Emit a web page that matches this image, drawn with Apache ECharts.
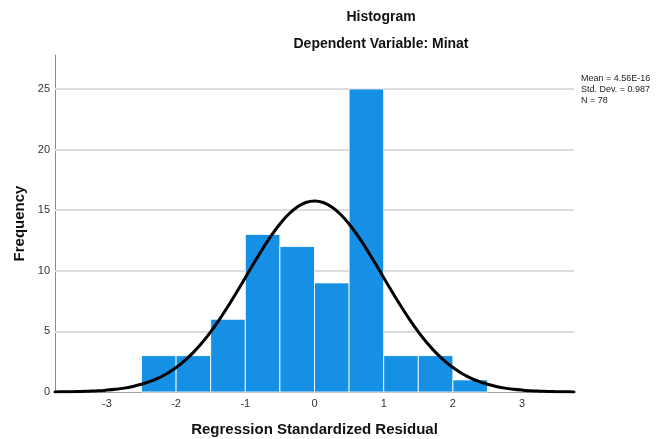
<!DOCTYPE html>
<html>
<head>
<meta charset="utf-8">
<script src="https://cdn.jsdelivr.net/npm/echarts@6/dist/echarts.min.js"></script>
<style>
  html, body { margin: 0; padding: 0; background: #ffffff; }
  #chart { width: 657px; height: 439px; }
</style>
</head>
<body>
<div id="chart"></div>
<script>
// Histogram of regression standardized residuals (dependent variable: Minat)
const binStarts = [-2.5, -2.0, -1.5, -1.0, -0.5, 0.0, 0.5, 1.0, 1.5, 2.0];
const binEnds   = [-2.0, -1.5, -1.0, -0.5, 0.0, 0.5, 1.0, 1.5, 2.0, 2.5];
const frequencies = [3, 3, 6, 13, 12, 9, 25, 3, 3, 1];

// Fitted normal curve, sampled every 0.125 along the residual axis
const curveX = [
  -3.75, -3.625, -3.5, -3.375, -3.25, -3.125, -3.0, -2.875, -2.75, -2.625, -2.5, -2.375, -2.25, -2.125,
  -2.0, -1.875, -1.75, -1.625, -1.5, -1.375, -1.25, -1.125, -1.0, -0.875, -0.75, -0.625, -0.5, -0.375,
  -0.25, -0.125, 0.0, 0.125, 0.25, 0.375, 0.5, 0.625, 0.75, 0.875, 1.0, 1.125, 1.25, 1.375, 1.5, 1.625,
  1.75, 1.875, 2.0, 2.125, 2.25, 2.375, 2.5, 2.625, 2.75, 2.875, 3.0, 3.125, 3.25, 3.375, 3.5, 3.625, 3.75
];
const curveY = [
  0.01, 0.02, 0.03, 0.05, 0.07, 0.10, 0.16, 0.23, 0.32, 0.46, 0.64, 0.87, 1.17, 1.55,
  2.02, 2.59, 3.27, 4.06, 4.96, 5.97, 7.07, 8.23, 9.43, 10.64, 11.81, 12.90, 13.86, 14.66,
  15.26, 15.63, 15.76, 15.63, 15.26, 14.66, 13.86, 12.90, 11.81, 10.64, 9.43, 8.23, 7.07, 5.97, 4.96, 4.06,
  3.27, 2.59, 2.02, 1.55, 1.17, 0.87, 0.64, 0.46, 0.32, 0.23, 0.16, 0.10, 0.07, 0.05, 0.03, 0.02, 0.01
];

const xTicks = [-3, -2, -1, 0, 1, 2, 3];
const yTicks = [0, 5, 10, 15, 20, 25];
const gridValues = [5, 10, 15, 20, 25];

const chartTitle = 'Histogram';
const chartSubtitle = 'Dependent Variable: Minat';
const xName = 'Regression Standardized Residual';
const yName = 'Frequency';
const statsLines = ['Mean = 4.56E-16', 'Std. Dev. = 0.987', 'N = 78'];

const FONT = '"Liberation Sans", Arial, sans-serif';

const binData = binStarts.map((s, i) => [s, binEnds[i], frequencies[i]]);
const curveData = curveX.map((x, i) => [x, curveY[i]]);

const chart = echarts.init(document.getElementById('chart'), null, { renderer: 'canvas' });

chart.setOption({
  backgroundColor: '#ffffff',
  animation: false,
  textStyle: { fontFamily: FONT },
  grid: { left: 55, right: 83, top: 55, bottom: 47, containLabel: false, outerBoundsMode: 'none' },
  xAxis: {
    type: 'value',
    min: -3.75,
    max: 3.75,
    name: xName,
    nameLocation: 'middle',
    nameGap: 30,
    nameTextStyle: { fontFamily: FONT, fontSize: 15, fontWeight: 'bold', color: '#111' },
    axisLine: { show: true, onZero: false, lineStyle: { color: '#a0a0a0', width: 1 } },
    axisTick: { show: false },
    splitLine: { show: false },
    axisLabel: {
      customValues: xTicks,
      fontFamily: FONT, fontSize: 11, color: '#333', margin: 6
    }
  },
  yAxis: {
    type: 'value',
    min: 0,
    max: 27.8,
    name: yName,
    nameLocation: 'middle',
    nameGap: 28,
    nameTextStyle: { fontFamily: FONT, fontSize: 15, fontWeight: 'bold', color: '#111' },
    axisLine: { show: true, onZero: false, lineStyle: { color: '#8a8a8a', width: 1 } },
    axisTick: { show: false },
    splitLine: { show: false },
    axisLabel: {
      customValues: yTicks,
      fontFamily: FONT, fontSize: 11, color: '#333', margin: 5
    }
  },
  graphic: [
    {
      type: 'text', x: 381, y: 17,
      style: { text: chartTitle, font: 'bold 14px ' + FONT, fill: '#111', align: 'center', verticalAlign: 'middle' }
    },
    {
      type: 'text', x: 381, y: 44,
      style: { text: chartSubtitle, font: 'bold 14px ' + FONT, fill: '#111', align: 'center', verticalAlign: 'middle' }
    },
    ...statsLines.map((t, i) => ({
      type: 'text', x: 581, y: 79 + i * 11,
      style: { text: t, font: '9px ' + FONT, fill: '#222', align: 'left', verticalAlign: 'middle' }
    }))
  ],
  series: [
    {
      type: 'line',
      data: [],
      silent: true,
      z: 1,
      markLine: {
        silent: true,
        symbol: ['none', 'none'],
        z: 1,
        label: { show: false },
        lineStyle: { color: '#dcdcdc', width: 2, type: 'solid' },
        emphasis: { disabled: true },
        data: gridValues.map(v => ({ yAxis: v }))
      }
    },
    {
      type: 'custom',
      z: 2,
      data: binData,
      encode: { x: [0, 1], y: 2 },
      renderItem: function (params, api) {
        const topLeft = api.coord([api.value(0), api.value(2)]);
        const bottomRight = api.coord([api.value(1), 0]);
        return {
          type: 'rect',
          shape: {
            x: topLeft[0],
            y: topLeft[1],
            width: bottomRight[0] - topLeft[0],
            height: bottomRight[1] - topLeft[1]
          },
          style: { fill: '#1590e5', stroke: 'rgba(255,255,255,0.85)', lineWidth: 1 }
        };
      }
    },
    {
      type: 'line',
      z: 3,
      data: curveData,
      smooth: 0.3,
      showSymbol: false,
      symbol: 'none',
      lineStyle: { color: '#000000', width: 3, cap: 'round', join: 'round' }
    }
  ]
});
</script>
</body>
</html>
